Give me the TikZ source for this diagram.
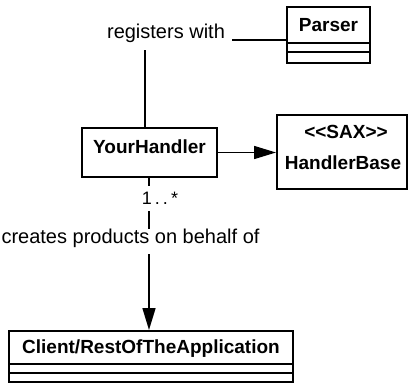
\documentclass[tikz,border=0pt]{standalone}
\usepackage{fontspec}
\setmainfont{Liberation Sans}
\usetikzlibrary{arrows.meta}
\begin{document}
\begin{tikzpicture}[x=1pt,y=-1pt,
 box/.style={draw=black,line width=2pt,fill=white,inner sep=0pt},
 cls/.style={font=\fontsize{19}{22}\selectfont\bfseries,inner sep=0pt},
 lbl/.style={font=\fontsize{20}{24}\selectfont,inner sep=0pt},
 conn/.style={line width=1.6pt},
 divider/.style={line width=1.6pt},
 tri/.style={-{Triangle[length=22pt,width=13pt]}}]
\useasboundingbox (0,0) rectangle (412,391);
% boxes
\node[box,minimum width=83pt,minimum height=56pt] (parser) at (328.5,35) {};
\node[box,minimum width=135pt,minimum height=49pt] (yh) at (149.5,152.5) {};
\node[box,minimum width=130pt,minimum height=74pt] (hb) at (342,152) {};
\node[box,minimum width=284pt,minimum height=51pt] (client) at (151,356.5) {};
% texts in boxes
\node[cls] (parsertxt) at (328.5,25) {Parser};
\node[cls] (yhtxt) at (149.5,147) {YourHandler};
\node[cls] (sax) at (346,132) {{<}{<}SAX{>}{>}};
\node[cls] (hbtxt) at (343,163) {HandlerBase};
\node[cls] (clienttxt) at (151,349) {Client/RestOfTheApplication};
% compartments
\draw[divider] (parser.west |- 0,43) -- (parser.east |- 0,43);
\draw[divider] (parser.west |- 0,52) -- (parser.east |- 0,52);
\draw[divider] (client.west |- 0,364) -- (client.east |- 0,364);
\draw[divider] (client.west |- 0,373) -- (client.east |- 0,373);
% labels
\node[lbl] (rw) at (166,33) {registers with};
\node[lbl,font=\fontsize{18}{22}\selectfont] (mult) at (160,198) {1\,.\,.\,*};
\node[lbl] (cp) at (130.5,238) {creates products on behalf of};
% coordinates
\coordinate (rwA) at (145,50);
\coordinate (rwB) at (232,40);
\coordinate (mA) at (149,186);
\coordinate (mB) at (149,211);
\coordinate (mC) at (149,229);
\coordinate (mD) at (149,254);
% connectors
\draw[conn] (rwB) -- (parser.west |- rwB);
\draw[conn] (rwA) -- (yh.north -| rwA);
\draw[conn,tri] (yh.east) -- (hb.west |- yh.east);
\draw[conn] (yh.south -| mA) -- (mA);
\draw[conn] (mB) -- (mC);
\draw[conn,tri] (mD) -- (client.north -| mD);
\end{tikzpicture}
\end{document}
